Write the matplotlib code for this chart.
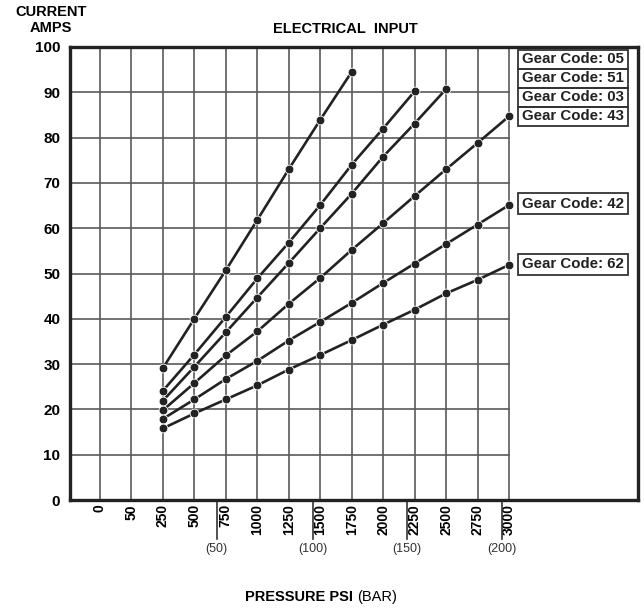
import numpy as np
import matplotlib.pyplot as plt
from matplotlib.patches import Rectangle

plt.rcParams['font.family'] = ['Liberation Sans', 'DejaVu Sans']

# x axis categories (PSI) and secondary BAR marks
psi_labels = ['0', '50', '250', '500', '750', '1000', '1250', '1500',
              '1750', '2000', '2250', '2500', '2750', '3000']
bar_marks = [50, 100, 150, 200]
bar_at_psi = [677, 1440, 2187, 2947]   # where the BAR marks sit on the psi scale

# current (amps) per gear code, starting at 250 psi
psi_points = [250, 500, 750, 1000, 1250, 1500, 1750, 2000, 2250, 2500, 2750, 3000]
gear_05 = [29.1, 40.0, 50.7, 61.8, 73.0, 83.9, 94.5]
gear_51 = [24.1, 32.1, 40.4, 48.9, 56.8, 65.1, 74.0, 82.0, 90.2]
gear_03 = [21.9, 29.4, 37.0, 44.7, 52.3, 60.0, 67.6, 75.8, 83.1, 90.7]
gear_43 = [19.8, 25.8, 31.9, 37.2, 43.3, 49.0, 55.2, 61.1, 67.1, 73.0, 78.8, 84.7]
gear_42 = [17.9, 22.2, 26.7, 30.7, 35.2, 39.3, 43.5, 47.9, 52.2, 56.5, 60.8, 65.1]
gear_62 = [15.8, 19.1, 22.2, 25.3, 28.8, 32.0, 35.3, 38.7, 42.0, 45.6, 48.6, 51.9]

series = [gear_05, gear_51, gear_03, gear_43, gear_42, gear_62]
stack_codes = ['05', '51', '03', '43']
single_codes = [('42', 65.4), ('62', 52.0)]

dark = '#222222'
grid_c = '#5a5a5a'

fig = plt.figure(figsize=(6.44, 6.10), dpi=100)
ax = fig.add_axes([70 / 644, 1 - 500 / 610, 568 / 644, 453 / 610])

xpos = np.arange(len(psi_labels))
last = xpos[-1]
ax.set_xlim(-0.95, 17.1)
ax.set_ylim(0, 100)

# grid: vertical lines full height, horizontal only up to 3000 psi
for x in xpos:
    ax.plot([x, x], [0, 100], color=grid_c, lw=1.2, zorder=1)
for y in range(10, 100, 10):
    ax.plot([-0.95, last], [y, y], color=grid_c, lw=1.2, zorder=1)

def psi_to_pos(p):
    return psi_labels.index(str(p))

for vals in series:
    xs = [psi_to_pos(p) for p in psi_points[:len(vals)]]
    ax.plot(xs, vals, color=dark, lw=1.9, marker='o', ms=6.3,
            mfc=dark, mec='white', mew=0.6, zorder=3)

# gear code boxes
bx0, bx1, bh = 13.28, 16.78, 4.2
top_center = 97.3
for i, code in enumerate(stack_codes):
    cy = top_center - i * bh
    ax.add_patch(Rectangle((bx0, cy - bh / 2), bx1 - bx0, bh, fill=False,
                           ec='#333333', lw=1.3, zorder=4))
    ax.text(bx0 + 0.13, cy, 'Gear Code: ' + code, ha='left', va='center',
            fontsize=10.8, fontweight='bold', color='#222222', zorder=5)
for code, cy in single_codes:
    ax.add_patch(Rectangle((bx0, cy - bh / 2 - 0.2), bx1 - bx0, bh + 0.4, fill=False,
                           ec='#333333', lw=1.3, zorder=4))
    ax.text(bx0 + 0.13, cy, 'Gear Code: ' + code, ha='left', va='center',
            fontsize=10.8, fontweight='bold', color='#222222', zorder=5)

# spines
for s in ax.spines.values():
    s.set_linewidth(2.4)
    s.set_color('#222222')

ax.set_xticks(xpos)
ax.set_xticklabels(psi_labels, rotation=90, fontsize=10, fontweight='bold')
ax.set_yticks(range(0, 101, 10))
ax.set_yticklabels([str(v) for v in range(0, 101, 10)], fontsize=11, fontweight='bold')
ax.tick_params(axis='x', length=0, pad=3)
ax.tick_params(axis='y', length=0, pad=7)

# BAR marks below the axis
for b, p in zip(bar_marks, bar_at_psi):
    pos = np.interp(p, psi_points, xpos[2:])
    ax.plot([pos, pos], [0, -8.6], color='#333333', lw=1.2, clip_on=False)
    ax.text(pos, -10.8, '(%d)' % b, ha='center', va='center', fontsize=9,
            color='#333333')

fig.text(51 / 644, 1 - 20 / 610, 'CURRENT\nAMPS', ha='center', va='center',
         fontsize=10.5, fontweight='bold', linespacing=1.2)
fig.text(345 / 644, 1 - 29 / 610, 'ELECTRICAL  INPUT', ha='center', va='center',
         fontsize=10.5, fontweight='bold')
fig.text(357 / 644, 1 - 597 / 610, 'PRESSURE PSI ', ha='right', va='center',
         fontsize=10.5, fontweight='bold')
fig.text(357 / 644, 1 - 597 / 610, '(BAR)', ha='left', va='center', fontsize=10.5)

fig.savefig('out.png', dpi=100)
